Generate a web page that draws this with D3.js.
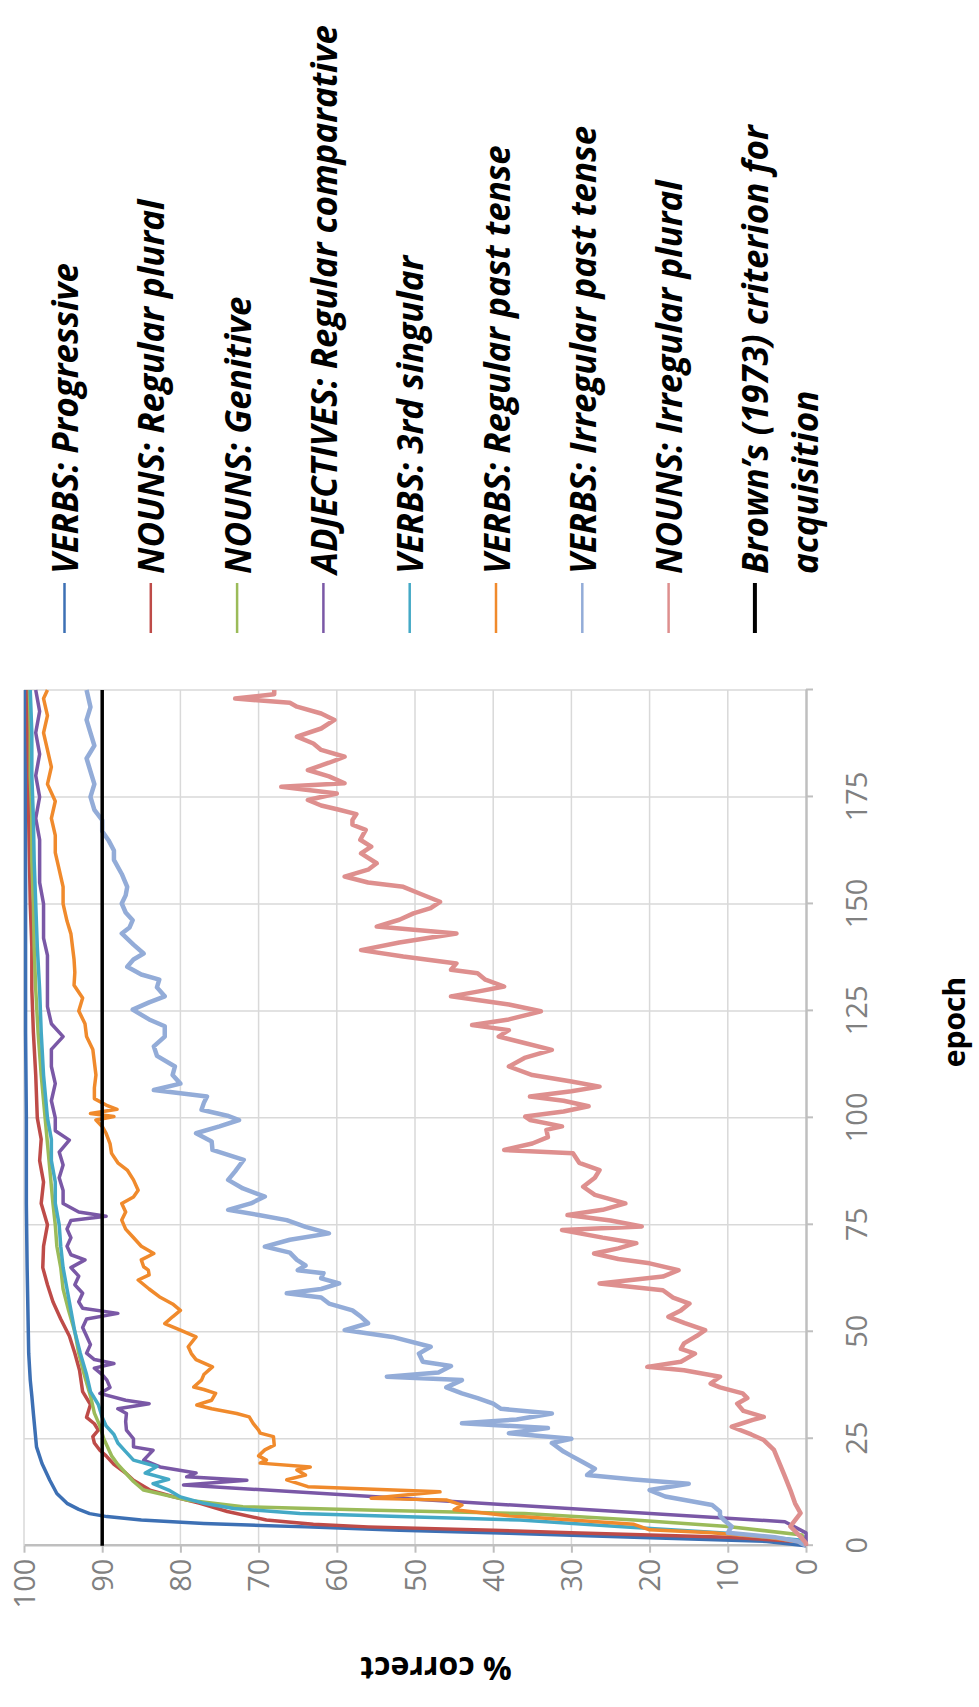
<!DOCTYPE html>
<html>
<head>
<meta charset="utf-8">
<script src="https://cdn.jsdelivr.net/npm/d3@7"></script>
<style>
  body { margin: 0; background: #fff; }
  text { font-family: "Open Sans", "Liberation Sans", sans-serif; }
</style>
</head>
<body>
<div id="chart"></div>
<script>
// ---- data: [epoch, % correct] ----
const epochTicks = [0, 25, 50, 75, 100, 125, 150, 175, 200];
const pctTicks = [0, 10, 20, 30, 40, 50, 60, 70, 80, 90, 100];
const criterionLevel = 90;

const seriesLabels = [
  "VERBS: Progressive",
  "NOUNS: Regular plural",
  "NOUNS: Genitive",
  "ADJECTIVES: Regular comparative",
  "VERBS: 3rd singular",
  "VERBS: Regular past tense",
  "VERBS: Irregular past tense",
  "NOUNS: Irregular plural"
];
const seriesColors = ["#3d70b4", "#be4b48", "#9bbb59", "#7a58a6", "#44a9c6", "#f08a2c", "#93acd8", "#de8f8e"];
const criterionLabel = ["Brown\u2019s (1973) criterion for", "acquisition"];

const verbsProgressive = [[0,0],[1,5],[2,22],[2.9,38],[3.6,52],[4.4,64],[5.2,77],[6,85],[6.8,89.4],[7.5,91.6],[8.5,93],[9.9,94.5],[12.2,95.8],[15.3,96.7],[19.2,97.7],[23.1,98.4],[27,98.6],[30.9,98.8],[35,99],[38.7,99.2],[45,99.4],[55,99.5],[65,99.6],[80,99.7],[100,99.7],[120,99.8],[140,99.8],[160,99.8],[180,99.8],[200,99.8]];

const nounsRegularPlural = [[0,0],[1,1],[2,10],[3,30],[3.6,40],[4.4,56],[5,63],[6,69],[8,74],[9.9,77.5],[11.5,81],[13,83.9],[15.3,86],[17,87],[19,88.5],[21,89.5],[22.3,90.3],[24,91],[25.5,91.2],[27,90.5],[28.5,91],[30,92],[33,91.5],[36,92.5],[41,92.9],[45,93.5],[49,94.2],[53,95.3],[57,96.3],[61,97],[65,97.6],[70,97.5],[75,97],[80,97.8],[85,97.5],[90,98],[95,97.8],[100,98.3],[110,98.5],[120,98.8],[130,99],[140,99],[150,99.2],[160,99.3],[170,99.4],[180,99.4],[190,99.5],[200,99.5]];

const nounsGenitive = [[0,0],[2.5,0.5],[4.5,10],[6,22],[7.5,36],[8.3,55],[9.1,72],[10.6,79],[13,84.7],[15,86],[17,87],[19,88],[21,88.8],[23,89.3],[25,89.8],[28,90.3],[31,91],[35,91.5],[40,92.3],[45,93],[50,93.5],[55,94.3],[60,95],[65,95.3],[70,95.8],[75,96],[80,96.3],[90,96.8],[100,97.3],[110,97.8],[120,98.2],[130,98.5],[140,98.7],[150,98.8],[160,99],[170,99],[180,99.2],[190,99.2],[200,99.3]];

const adjRegularComparative = [[0,0],[3,0],[5.6,2.7],[14.2,79.6],[15.3,71.5],[16.1,79.2],[17,78],[18.4,82.6],[20,84.7],[22.3,83.5],[23.1,86],[25,86],[27,86.9],[29,87],[30.9,86.9],[32,88],[33.2,84],[34,87],[35.6,90.3],[37,89],[38.7,89.4],[40,90],[41.5,91],[42.6,88.5],[43.5,91],[45,92],[47,91.5],[49,92],[51,92.5],[53,92],[54.3,88],[55.5,92.5],[57,93],[59,92.5],[61,93.5],[63,93],[65,94],[66.8,92.2],[68,94],[70,94.5],[72,94],[74,94.5],[76,94],[77,89.5],[78,93],[80,95],[83,95],[86,95.5],[89,95],[92,95.5],[94.8,94.2],[97,96],[100,96],[104,96.5],[108,96],[112,96.5],[116,96.5],[119,95],[122,96.5],[126,97],[130,97],[134,97],[138,97],[142,97.5],[146,97.5],[150,97.5],[155,98],[160,98],[165,98],[170,98.5],[175,98],[180,98.5],[185,98],[190,98.5],[195,98],[200,98.5]];

const verbs3rdSingular = [[0,0],[1.3,0.5],[2.9,10],[4.5,24],[6,36.6],[6.8,52],[7.5,64.7],[8.7,73.2],[9.9,77],[11.4,80],[13,81.5],[14.5,83.5],[15.5,81.5],[17,84.5],[18.5,83],[20,86],[22,87],[24,88],[26,88.5],[28,89.5],[30,90],[33,90.5],[36,91.5],[40,92],[45,92.8],[50,93.5],[55,94],[60,94.5],[65,95],[70,95.3],[75,95.5],[80,96],[85,96],[90,96.5],[95,96.5],[100,97],[110,97.5],[120,97.8],[130,98],[140,98.3],[150,98.5],[160,98.7],[170,98.8],[180,99],[190,99],[200,99.2]];

const verbsRegularPast = [[0,0],[1,1],[2,5],[3,12],[3.7,20],[5,22],[6,30],[7,38],[8.4,45],[9.5,44],[10.7,46],[11.1,55.6],[12.6,46.8],[13.8,63.7],[15.4,66.4],[16.5,64],[17.7,65.1],[18.4,63.4],[19.3,69.8],[20,69],[21,70],[22.4,69.2],[23.5,68],[25.5,68.1],[26.3,69.8],[27,70],[28.6,70.7],[30.1,71.2],[30.9,72.8],[32,76],[32.9,77.9],[34,76],[35.6,75.5],[36.5,77],[37.1,78.3],[38.7,77.3],[40,77],[41.8,75.9],[43.5,78],[44.9,78.6],[46.5,79],[48.8,78],[50.4,80],[51.9,82],[53.5,81],[55,80],[56.5,81],[58.2,82.7],[60,84],[62.1,85.4],[63.3,84],[64.4,84.1],[65.2,84.7],[66.8,85],[68.3,83.4],[70,85],[72.2,86.1],[74,87],[76.1,87.5],[78,87],[80,87.5],[81.5,86],[83.1,85.4],[85.5,86],[87.8,86.8],[89.5,88],[91.7,88.8],[94,89],[96.4,89.5],[98,90],[99.5,90.8],[100.3,88.5],[101,91.5],[102,88.1],[103,89.5],[104.5,91],[107,91],[110,90.8],[113,91],[116,91.2],[119,92],[122,92.2],[125,93],[128,92.5],[131,93.6],[134,93.5],[137,93.6],[140,93.8],[143,94],[146,94.5],[150,95],[154,95],[158,95.5],[162,96],[166,96],[170,96.5],[174,96],[178,97],[182,96.5],[186,97],[190,97.5],[194,97],[198,97.5],[200,97]];

const verbsIrregularPast = [[0,0],[1,1],[2,4],[3,10],[4.5,9.5],[6,10.5],[7,11],[8,11],[9.5,12],[10.5,15],[11.5,18],[13,20],[14.5,15],[15.5,22],[16.5,28],[18,27],[19.5,28.5],[21,30],[22,31],[24,32.5],[25,30],[26.3,38],[27.5,33],[28.6,44],[29.5,37],[30.9,32.5],[32,39],[33.2,40],[34.5,42],[35.6,44],[37,46],[38.7,44],[39.5,53.6],[40.5,47],[42,45.4],[43,49],[44.9,49.5],[46.5,48],[48.8,52.9],[50.4,59],[52,56],[53.5,56.9],[55,58],[56.6,61],[58,62],[59,66.4],[60,62],[61.3,59.7],[62.5,62],[63.7,61.7],[64.4,65],[65.5,64],[66.8,65.1],[68.5,66],[69.9,69.2],[71.5,66],[73,61],[74.5,64],[76.1,66.4],[77.3,70],[78.5,73.9],[80,71],[81.6,69.2],[83.5,72],[85.5,73.9],[87.5,73],[90.2,71.9],[92.5,75.9],[94.5,76],[96.4,78],[98,75],[99.5,72.5],[100.5,74],[101.9,77.3],[103.5,77],[105,76.6],[106.5,83.4],[108,80],[110,81],[112,80.7],[114.5,83],[116.7,83.4],[119,82],[121.4,82],[123,84],[125.3,86.1],[127,84],[128.4,82],[130.5,83],[132.3,82.7],[133.5,85],[135.3,86.8],[137,86],[138.4,84.7],[140.5,86],[143.1,87.5],[144.5,86.5],[146.2,86.1],[148,87],[150.1,87.5],[152,87],[154,86.8],[157,87.5],[160.3,88.5],[162.5,88.5],[164.9,89.2],[167,90],[169.6,90],[172,91],[175,91.5],[178,91],[181,91.5],[184,92],[187,91],[190,91.5],[193,92],[196,91.5],[200,92]];

const nounsIrregularPlural = [[0,0],[0.6,0],[2.1,0.7],[4.5,2],[7.6,0.7],[9.9,1.4],[13,2],[16.2,2.7],[19.3,3.4],[22.4,4.1],[24.7,5.4],[26,7],[27.8,9.5],[29.4,6.8],[30.1,5.4],[31.5,8],[33.2,8.8],[34.5,7.5],[35.6,8.1],[37,11],[37.9,12.2],[39.5,11],[41,15.6],[41.8,20.3],[43,16],[44.9,14.2],[46,16],[47.3,15.6],[49,14],[50.4,12.9],[52,15.5],[53.5,17.6],[55,16],[56.6,14.9],[58,17],[59.7,18.3],[61.3,26.4],[62.9,18.3],[64.4,16.3],[66,20],[67,24],[68.3,27.1],[69.5,24],[70.7,21.7],[72,26],[73.8,31.2],[74.6,21],[76,25],[77.3,30.5],[78.5,26],[80,23.1],[82,27],[83.9,28.5],[86,27],[87.8,26.4],[89.5,29],[91.7,29.8],[92.5,38.6],[94,35],[95.5,33],[97.2,33.2],[98,31.2],[99.5,35.3],[100.3,35.9],[101.5,31],[102.7,27.8],[104,31],[105,35.3],[106.2,30],[107.3,26.4],[108.5,30],[110,35],[112,38],[114,36],[115.9,32.5],[117.5,36],[119,39.3],[120.5,38],[121.7,42.7],[123,38],[124.9,33.9],[126.5,38],[128.4,45.4],[129.5,42],[130.7,38.6],[132.3,41],[133.8,42],[134.6,45.4],[136.1,44.7],[137.7,51.5],[139.2,56.9],[141,52],[143.1,44.7],[144.7,54.9],[146.3,52],[147.8,50.2],[149,48],[150.5,46.8],[152.5,49.5],[154,51.5],[155,56],[156.4,59],[158,56],[159.5,54.9],[161.8,56.9],[163.4,55.6],[165,57],[167.3,56.3],[168.5,58],[169.6,58],[171,57.5],[172,59.7],[173,62],[174.3,63.7],[175.8,60],[177.4,67.1],[178.2,59],[179.8,61],[181.3,63.7],[183,61],[184.4,59],[186,62],[187.5,63],[189.1,65.1],[191,62],[193,60.3],[194.5,62],[196.1,65.1],[197,66],[198,73],[199,68],[200,68]];

const allSeries = [verbsProgressive, nounsRegularPlural, nounsGenitive, adjRegularComparative,
  verbs3rdSingular, verbsRegularPast, verbsIrregularPast, nounsIrregularPlural];

// ---- the chart is drawn upright, then turned a quarter turn counter-clockwise ----
const pageW = 979, pageH = 1707;

const svg = d3.select("#chart").append("svg")
  .attr("width", pageW)
  .attr("height", pageH);

svg.append("rect").attr("width", pageW).attr("height", pageH).attr("fill", "#fff");

const g = svg.append("g").attr("transform", `translate(0,${pageH}) rotate(-90)`);

const x = d3.scaleLinear().domain([0, 200]).range([161.3, 1017]);
const y = d3.scaleLinear().domain([0, 100]).range([806, 24]);

// gridlines
g.append("g").selectAll("line")
  .data(pctTicks.filter(d => d > 0))
  .join("line")
  .attr("x1", x(0)).attr("x2", x(200))
  .attr("y1", d => y(d)).attr("y2", d => y(d))
  .attr("stroke", "#d9d9d9").attr("stroke-width", 1.5);

g.append("g").selectAll("line")
  .data(epochTicks.filter(d => d > 0))
  .join("line")
  .attr("x1", d => x(d)).attr("x2", d => x(d))
  .attr("y1", y(0)).attr("y2", y(100))
  .attr("stroke", "#d9d9d9").attr("stroke-width", 1.5);

// axes
const yAxis = g.append("g")
  .attr("transform", `translate(${x(0)},0)`)
  .call(d3.axisLeft(y).tickValues(pctTicks).tickSize(7).tickSizeOuter(0));

const xAxis = g.append("g")
  .attr("transform", `translate(0,${y(0)})`)
  .call(d3.axisBottom(x).tickValues(epochTicks).tickSize(7).tickSizeOuter(0)
    .tickFormat(d => d === 200 ? "" : d));

[yAxis, xAxis].forEach(ax => {
  ax.select(".domain").attr("stroke", "#bfbfbf").attr("stroke-width", 2.5);
  ax.selectAll(".tick line").attr("stroke", "#bfbfbf").attr("stroke-width", 2);
  ax.selectAll("text")
    .attr("fill", "#808080")
    .style("font-size", "29px")
    .style("font-family", "'Open Sans', 'Liberation Sans', sans-serif");
});
yAxis.selectAll("text").attr("x", -13).attr("dy", "0.35em");
xAxis.selectAll("text").attr("y", 51).attr("dy", "0.35em");

// axis titles
g.append("text")
  .attr("transform", "translate(38,436) rotate(-90)")
  .attr("text-anchor", "middle")
  .attr("dominant-baseline", "central")
  .style("font-size", "32px")
  .style("font-weight", "bold")
  .text("% correct");

g.append("text")
  .attr("x", 685).attr("y", 953)
  .attr("text-anchor", "middle")
  .attr("dominant-baseline", "central")
  .style("font-size", "30px")
  .style("font-weight", "bold")
  .text("epoch");

// series lines
const line = d3.line().x(d => x(d[0])).y(d => y(d[1]));

g.append("g").selectAll("path")
  .data(allSeries)
  .join("path")
  .attr("d", line)
  .attr("fill", "none")
  .attr("stroke", (d, i) => seriesColors[i])
  .attr("stroke-width", (d, i) => i >= 6 ? 4.5 : 3.5)
  .attr("stroke-linejoin", "round");

// Brown's criterion
g.append("line")
  .attr("x1", x(0)).attr("x2", x(200))
  .attr("y1", y(criterionLevel)).attr("y2", y(criterionLevel))
  .attr("stroke", "#000").attr("stroke-width", 3.5);

// legend
const legendRow = i => 64.5 + 86.3 * i;
const legend = g.append("g");

const legendItems = seriesLabels.map((t, i) => ({ lines: [t], color: seriesColors[i], w: 2.5 }))
  .concat([{ lines: criterionLabel, color: "#000", w: 4 }]);

legendItems.forEach((item, i) => {
  const cy = legendRow(i);
  legend.append("line")
    .attr("x1", 1074).attr("x2", 1124)
    .attr("y1", cy).attr("y2", cy)
    .attr("stroke", item.color).attr("stroke-width", item.w);
  item.lines.forEach((t, k) => {
    legend.append("text")
      .attr("x", 1133).attr("y", cy + k * 50)
      .attr("dominant-baseline", "central")
      .style("font-size", "35px")
      .style("font-weight", "bold")
      .style("font-style", "italic")
      .text(t);
  });
});
</script>
</body>
</html>
